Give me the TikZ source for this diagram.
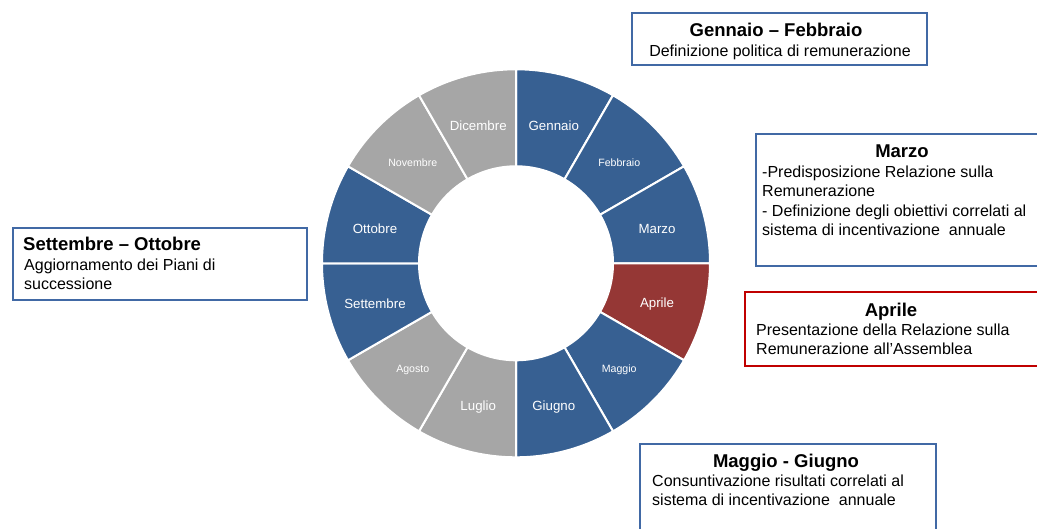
\documentclass[tikz,border=0pt]{standalone}
\usepackage{fontspec}
\setmainfont{Liberation Sans}
\usetikzlibrary{positioning}
\definecolor{monthblue}{RGB}{55,96,146}
\definecolor{monthgrey}{RGB}{166,166,166}
\definecolor{monthred}{RGB}{149,55,53}
\definecolor{boxblue}{RGB}{65,105,165}
\definecolor{boxred}{RGB}{192,0,0}
\tikzset{segment/.style={draw=white,line width=2pt},
    bigmonth/.style={text=white,inner sep=0,yshift=-3,font=\fontsize{13.3}{16}\selectfont},
    smallmonth/.style={text=white,inner sep=0,yshift=-3,font=\fontsize{10.6}{13}\selectfont},
    infobox/.style={draw=boxblue,line width=1.8pt,rectangle,anchor=north west,inner sep=0},
    infotitle/.style={font=\fontsize{18.5}{22}\selectfont\bfseries,inner sep=0,anchor=base},
    infotext/.style={font=\fontsize{16}{19}\selectfont,inner sep=0,anchor=base west}
}
\newcommand{\ringsegment}[3]
{
% args: (start angle, end angle, fill colour)
    \filldraw [segment,fill=#3] (#1:194) arc [start angle=#1, end angle=#2, radius=194]
        -- (#2:97) arc [start angle=#2, end angle=#1, radius=97] -- cycle;
}
\newcommand{\boxlines}[4]
{
% args: (x of text, y of first baseline, name prefix, list of n/line pairs)
    \foreach \n/\txt [evaluate=\n as \y using (#2)-19.5*(\n-1)] in {#4}
        \node (#3\n) [infotext] at (#1,\y) {\txt};
}

\begin{document}
\begin{tikzpicture}[x=1pt,y=1pt]

\useasboundingbox (0,0) rectangle (1037,529);

%% the year as a ring
\begin{scope}[shift={(516,265.7)}]
\foreach \i/\month/\col/\sz [evaluate=\i as \a using 90-30*\i,
    evaluate=\i as \b using 60-30*\i, evaluate=\i as \m using 75-30*\i] in
    {0/Gennaio/monthblue/bigmonth, 1/Febbraio/monthblue/smallmonth,
     2/Marzo/monthblue/bigmonth, 3/Aprile/monthred/bigmonth,
     4/Maggio/monthblue/smallmonth, 5/Giugno/monthblue/bigmonth,
     6/Luglio/monthgrey/bigmonth, 7/Agosto/monthgrey/smallmonth,
     8/Settembre/monthblue/bigmonth, 9/Ottobre/monthblue/bigmonth,
     10/Novembre/monthgrey/smallmonth, 11/Dicembre/monthgrey/bigmonth}
{
    \ringsegment{\a}{\b}{\col}
    \node (lab\i) [\sz] at (\m:146) {\month};
}
\end{scope}

%% boxes with the activities
% gennaio - febbraio

\node (genBox) [infobox,minimum width=295,minimum height=52] at (631,517) {};
\node (genTitle) [infotitle] at (776,492.5) {Gennaio – Febbraio};
\node (genText) [infotext,anchor=base] at (780,472.5) {Definizione politica di remunerazione};

% marzo

\node (marBox) [infobox,minimum width=300,minimum height=132] at (755,396) {};
\node (marTitle) [infotitle] at (902,371.5) {Marzo};
\boxlines{762}{351.5}{marLine}{1/-Predisposizione Relazione sulla, 2/Remunerazione,
    3/- Definizione degli obiettivi correlati al, 4/sistema di incentivazione~ annuale}

% aprile

\node (aprBox) [infobox,draw=boxred,minimum width=300,minimum height=74] at (744,238) {};
\node (aprTitle) [infotitle] at (891,212.5) {Aprile};
\boxlines{756}{193.5}{aprLine}{1/Presentazione della Relazione sulla, 2/Remunerazione all’Assemblea}

% maggio - giugno

\node (magBox) [infobox,minimum width=296,minimum height=100] at (639,86) {};
\node (magTitle) [infotitle] at (786,61.5) {Maggio - Giugno};
\boxlines{652}{42.5}{magLine}{1/Consuntivazione risultati correlati al, 2/sistema di incentivazione~ annuale}

% settembre - ottobre

\node (setBox) [infobox,minimum width=294,minimum height=72] at (12,302) {};
\node (setTitle) [infotitle,anchor=base west] at (23,278.5) {Settembre – Ottobre};
\boxlines{24}{258.5}{setLine}{1/Aggiornamento dei Piani di, 2/successione}

\end{tikzpicture}
\end{document}
